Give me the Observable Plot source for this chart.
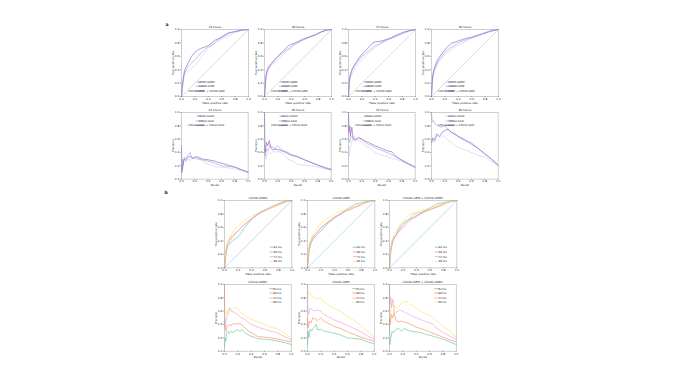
<!DOCTYPE html>
<html><head><meta charset="utf-8">
<script src="https://cdn.jsdelivr.net/npm/d3@7"></script>
<script src="https://cdn.jsdelivr.net/npm/@observablehq/plot@0.6"></script>
<style>
body{margin:0;background:#fff;font-family:"DejaVu Sans",sans-serif}
#fig{position:relative;width:673px;height:379px;overflow:hidden}
#fig svg{position:absolute;overflow:visible}
.lab{position:absolute;font-weight:bold;font-size:4.5px;color:#222}
</style></head><body><div id="fig"></div>
<script>
// ---- tick labels / categories ----
const tickValues = [0, 0.2, 0.4, 0.6, 0.8, 1.0];
const hoursTitles = ["24 hours", "48 hours", "72 hours", "96 hours"];
const cohortNames = ["COVID-GMRC", "COVID-GBM", "COVID-GMRC + COVID-GBM"];
const cohortTitlesB = ["COVID-GMRC", "COVID-GBM", "COVID-GBM + COVID-GMRC"];
const hoursLabels = ["24 hrs", "48 hrs", "72 hrs", "96 hrs"];
const diagonal = [[0, 0], [1, 1]];

// ---- ROC curves [false positive rate, true positive rate] ----
const rocGmrc24 = [[0,0],[0.01,0.1],[0.03,0.25],[0.05,0.33],[0.08,0.36],[0.12,0.4],[0.17,0.44],[0.2,0.46],[0.25,0.52],[0.3,0.6],[0.35,0.66],[0.4,0.72],[0.45,0.76],[0.5,0.8],[0.55,0.83],[0.6,0.86],[0.68,0.9],[0.75,0.93],[0.82,0.96],[0.9,0.99],[1,1]];
const rocGbm24 = [[0,0],[0.01,0.12],[0.03,0.28],[0.05,0.36],[0.08,0.42],[0.12,0.47],[0.15,0.5],[0.2,0.55],[0.25,0.6],[0.3,0.66],[0.35,0.7],[0.4,0.74],[0.45,0.77],[0.5,0.8],[0.55,0.85],[0.6,0.88],[0.65,0.91],[0.7,0.94],[0.8,0.97],[0.9,0.99],[1,1]];
const rocBoth24 = [[0,0],[0.01,0.15],[0.03,0.3],[0.05,0.4],[0.08,0.46],[0.1,0.5],[0.15,0.6],[0.2,0.66],[0.25,0.7],[0.3,0.72],[0.35,0.74],[0.4,0.76],[0.45,0.8],[0.5,0.84],[0.55,0.86],[0.6,0.89],[0.65,0.92],[0.7,0.95],[0.8,0.97],[0.9,0.99],[1,1]];
const rocGmrc48 = [[0,0],[0.01,0.12],[0.02,0.25],[0.04,0.35],[0.06,0.4],[0.1,0.46],[0.14,0.5],[0.18,0.53],[0.22,0.57],[0.27,0.62],[0.32,0.66],[0.37,0.7],[0.42,0.74],[0.47,0.78],[0.52,0.81],[0.58,0.84],[0.64,0.87],[0.7,0.9],[0.78,0.94],[0.86,0.97],[0.93,0.99],[1,1]];
const rocGbm48 = [[0,0],[0.01,0.15],[0.02,0.28],[0.04,0.38],[0.07,0.44],[0.1,0.48],[0.14,0.52],[0.18,0.57],[0.22,0.61],[0.27,0.65],[0.32,0.69],[0.37,0.72],[0.42,0.76],[0.48,0.8],[0.53,0.82],[0.58,0.85],[0.64,0.87],[0.7,0.9],[0.76,0.92],[0.84,0.96],[0.92,0.99],[1,1]];
const rocBoth48 = [[0,0],[0.01,0.15],[0.02,0.3],[0.04,0.4],[0.07,0.46],[0.1,0.49],[0.14,0.54],[0.18,0.58],[0.22,0.62],[0.27,0.67],[0.32,0.72],[0.36,0.76],[0.41,0.78],[0.46,0.8],[0.52,0.83],[0.58,0.86],[0.64,0.88],[0.7,0.9],[0.76,0.92],[0.84,0.96],[0.92,0.99],[1,1]];
const rocGmrc72 = [[0,0],[0.01,0.15],[0.02,0.25],[0.05,0.33],[0.08,0.4],[0.12,0.46],[0.16,0.5],[0.2,0.55],[0.25,0.6],[0.3,0.65],[0.35,0.69],[0.4,0.73],[0.45,0.77],[0.5,0.8],[0.56,0.83],[0.62,0.86],[0.68,0.88],[0.75,0.91],[0.82,0.94],[0.9,0.97],[0.95,0.99],[1,1]];
const rocGbm72 = [[0,0],[0.01,0.18],[0.02,0.28],[0.05,0.38],[0.08,0.44],[0.12,0.5],[0.16,0.55],[0.2,0.6],[0.25,0.64],[0.3,0.68],[0.35,0.72],[0.4,0.76],[0.45,0.78],[0.5,0.81],[0.56,0.84],[0.62,0.86],[0.68,0.89],[0.75,0.92],[0.82,0.95],[0.9,0.98],[1,1]];
const rocBoth72 = [[0,0],[0.01,0.2],[0.02,0.3],[0.05,0.4],[0.08,0.46],[0.12,0.52],[0.16,0.58],[0.2,0.63],[0.25,0.68],[0.3,0.73],[0.34,0.78],[0.38,0.81],[0.44,0.82],[0.5,0.83],[0.56,0.85],[0.62,0.87],[0.68,0.9],[0.75,0.93],[0.82,0.96],[0.9,0.98],[1,1]];
const rocGmrc96 = [[0,0],[0.01,0.15],[0.02,0.28],[0.04,0.36],[0.07,0.43],[0.1,0.5],[0.14,0.55],[0.18,0.6],[0.22,0.64],[0.27,0.68],[0.32,0.72],[0.37,0.75],[0.42,0.78],[0.47,0.8],[0.52,0.83],[0.58,0.86],[0.64,0.88],[0.7,0.9],[0.77,0.93],[0.85,0.96],[0.92,0.98],[1,1]];
const rocGbm96 = [[0,0],[0.01,0.2],[0.02,0.3],[0.04,0.4],[0.07,0.47],[0.1,0.53],[0.14,0.58],[0.18,0.63],[0.22,0.68],[0.27,0.72],[0.32,0.75],[0.37,0.78],[0.42,0.81],[0.47,0.83],[0.52,0.85],[0.58,0.87],[0.64,0.89],[0.7,0.91],[0.77,0.94],[0.85,0.96],[0.92,0.98],[1,1]];
const rocBoth96 = [[0,0],[0.01,0.22],[0.02,0.32],[0.04,0.42],[0.07,0.5],[0.1,0.56],[0.14,0.62],[0.18,0.67],[0.22,0.72],[0.26,0.76],[0.3,0.8],[0.35,0.81],[0.4,0.83],[0.46,0.85],[0.52,0.87],[0.58,0.88],[0.64,0.9],[0.7,0.92],[0.77,0.94],[0.85,0.97],[0.92,0.99],[1,1]];

// ---- PR curves [recall, precision] ----
const prGmrc24 = [[0,0.05],[0.01,0.2],[0.02,0.15],[0.03,0.28],[0.05,0.3],[0.07,0.26],[0.1,0.3],[0.13,0.28],[0.17,0.31],[0.2,0.32],[0.23,0.3],[0.27,0.32],[0.3,0.28],[0.35,0.25],[0.4,0.22],[0.45,0.21],[0.5,0.19],[0.55,0.18],[0.6,0.18],[0.7,0.17],[0.8,0.15],[0.9,0.13],[1,0.1]];
const prGbm24 = [[0,0.1],[0.01,0.3],[0.02,0.2],[0.04,0.33],[0.06,0.3],[0.1,0.36],[0.13,0.4],[0.15,0.32],[0.2,0.33],[0.25,0.3],[0.3,0.29],[0.35,0.28],[0.4,0.27],[0.5,0.24],[0.55,0.22],[0.6,0.2],[0.7,0.19],[0.8,0.18],[0.9,0.14],[1,0.11]];
const prBoth24 = [[0,0.5],[0.005,0.1],[0.02,0.2],[0.04,0.3],[0.06,0.28],[0.1,0.33],[0.14,0.34],[0.18,0.3],[0.22,0.34],[0.27,0.32],[0.32,0.3],[0.4,0.29],[0.5,0.27],[0.55,0.25],[0.6,0.24],[0.7,0.21],[0.8,0.18],[0.9,0.14],[1,0.1]];
const prGmrc48 = [[0,1],[0.003,0.4],[0.02,0.3],[0.04,0.38],[0.07,0.4],[0.1,0.38],[0.13,0.42],[0.16,0.4],[0.2,0.42],[0.25,0.4],[0.3,0.36],[0.35,0.3],[0.4,0.28],[0.45,0.25],[0.5,0.22],[0.6,0.21],[0.7,0.2],[0.8,0.18],[0.9,0.16],[1,0.14]];
const prGbm48 = [[0,0.5],[0.01,0.35],[0.03,0.45],[0.05,0.42],[0.08,0.5],[0.12,0.48],[0.15,0.46],[0.2,0.5],[0.25,0.45],[0.3,0.42],[0.35,0.4],[0.4,0.37],[0.5,0.34],[0.6,0.29],[0.7,0.25],[0.8,0.21],[0.9,0.18],[1,0.15]];
const prBoth48 = [[0,1],[0.004,0.6],[0.01,0.4],[0.03,0.55],[0.05,0.5],[0.07,0.58],[0.1,0.46],[0.13,0.44],[0.17,0.45],[0.22,0.44],[0.27,0.42],[0.32,0.4],[0.4,0.36],[0.5,0.33],[0.6,0.29],[0.7,0.25],[0.8,0.21],[0.9,0.17],[1,0.14]];
const prGmrc72 = [[0,0.5],[0.01,0.35],[0.03,0.5],[0.05,0.55],[0.08,0.65],[0.1,0.6],[0.15,0.58],[0.2,0.55],[0.25,0.5],[0.3,0.48],[0.35,0.44],[0.4,0.4],[0.5,0.36],[0.6,0.33],[0.7,0.3],[0.8,0.27],[0.9,0.22],[1,0.17]];
const prGbm72 = [[0,1],[0.005,0.6],[0.02,0.55],[0.04,0.65],[0.07,0.62],[0.1,0.6],[0.15,0.62],[0.2,0.6],[0.25,0.55],[0.3,0.52],[0.35,0.5],[0.4,0.47],[0.5,0.43],[0.6,0.39],[0.7,0.34],[0.8,0.29],[0.9,0.23],[1,0.18]];
const prBoth72 = [[0,1],[0.005,0.7],[0.02,0.8],[0.03,0.65],[0.05,0.78],[0.07,0.6],[0.1,0.58],[0.15,0.62],[0.2,0.6],[0.25,0.57],[0.3,0.55],[0.4,0.5],[0.5,0.46],[0.6,0.42],[0.65,0.41],[0.7,0.35],[0.8,0.28],[0.9,0.23],[1,0.18]];
const prGmrc96 = [[0,0.5],[0.01,0.6],[0.03,0.55],[0.05,0.62],[0.08,0.65],[0.12,0.62],[0.16,0.65],[0.2,0.64],[0.25,0.58],[0.3,0.55],[0.35,0.5],[0.4,0.48],[0.5,0.44],[0.6,0.4],[0.7,0.36],[0.8,0.33],[0.9,0.27],[1,0.2]];
const prGbm96 = [[0,1],[0.01,0.85],[0.03,0.88],[0.06,0.82],[0.1,0.8],[0.15,0.78],[0.2,0.8],[0.25,0.74],[0.3,0.7],[0.35,0.67],[0.4,0.64],[0.5,0.6],[0.55,0.56],[0.6,0.52],[0.7,0.46],[0.8,0.38],[0.9,0.3],[1,0.21]];
const prBoth96 = [[0,0.55],[0.02,0.62],[0.05,0.58],[0.08,0.68],[0.12,0.64],[0.16,0.7],[0.2,0.73],[0.25,0.75],[0.3,0.7],[0.35,0.68],[0.4,0.64],[0.5,0.58],[0.6,0.54],[0.7,0.46],[0.8,0.38],[0.9,0.3],[1,0.21]];

// ---- colours ----
const cohortColors = ["#c5d3ef", "#a7a3e2", "#9a5cbf"];
const hoursColors = ["#66c2a5", "#fc8d62", "#eaa1d6", "#fbe46c"];

const roc = [[rocGmrc24, rocGbm24, rocBoth24], [rocGmrc48, rocGbm48, rocBoth48], [rocGmrc72, rocGbm72, rocBoth72], [rocGmrc96, rocGbm96, rocBoth96]];
const pr = [[prGmrc24, prGbm24, prBoth24], [prGmrc48, prGbm48, prBoth48], [prGmrc72, prGbm72, prBoth72], [prGmrc96, prGbm96, prBoth96]];
const fig = document.getElementById("fig");
const FONT = 2.8;

function panel({left, top, size = 67, title, xLabel, yLabel, diagColor, lines, legend}) {
  const ml = 12, mr = 3, mt = 6, mb = 9;
  const axisOpts = {ticks: tickValues, tickFormat: d3.format(".1f"), fontSize: FONT, label: null, stroke: "#333", strokeWidth: 0.4, fill: "#222"};
  const marks = [];
  if (diagColor) marks.push(Plot.line(diagonal, {x: d => d[0], y: d => d[1], stroke: diagColor, strokeWidth: 0.6}));
  for (const l of lines) marks.push(Plot.line(l.data, {x: d => d[0], y: d => d[1], stroke: l.color, strokeWidth: 0.65, strokeLinejoin: "round"}));
  marks.push(
    Plot.frame({stroke: "#a0a0a0", strokeWidth: 0.5}),
    Plot.axisX({...axisOpts, tickSize: 1, tickPadding: 0.4}),
    Plot.axisY({...axisOpts, tickSize: 1.2, tickPadding: 1}),
    Plot.text([xLabel], {text: d => d, frameAnchor: "bottom", lineAnchor: "middle", dy: 6.1, fontSize: FONT, fill: "#222"}),
    Plot.text([yLabel], {text: d => d, frameAnchor: "left", textAnchor: "middle", lineAnchor: "middle", rotate: -90, dx: -8.5, fontSize: FONT, fill: "#222"}),
    Plot.text([title], {text: d => d, frameAnchor: "top", lineAnchor: "middle", dy: -2.6, fontSize: 2.9, fill: "#222"})
  );
  const svg = Plot.plot({
    width: ml + size + mr, height: mt + size + mb,
    marginLeft: ml, marginRight: mr, marginTop: mt, marginBottom: mb,
    x: {domain: [0, 1]}, y: {domain: [0, 1]},
    style: {fontFamily: "DejaVu Sans", background: "transparent", overflow: "visible"},
    marks
  });
  svg.style.left = (left - ml) + "px";
  svg.style.top = (top - mt) + "px";
  const sx = svg.scale("x"), sy = svg.scale("y");
  const X = d3.scaleLinear(sx.domain, sx.range), Y = d3.scaleLinear(sy.domain, sy.range);
  const g = d3.select(svg).append("g");
  legend.items.forEach((it, i) => {
    const y = Y(legend.ys[i]);
    g.append("line").attr("x1", X(legend.x0)).attr("x2", X(legend.x1)).attr("y1", y).attr("y2", y)
      .attr("stroke", it.color).attr("stroke-width", 0.75);
    g.append("text").attr("x", X(legend.tx)).attr("y", y).attr("dy", "0.35em")
      .attr("font-size", 2.6).attr("fill", "#222").attr("font-family", "DejaVu Sans").text(it.label);
  });
  fig.appendChild(svg);
}

const cohortItems = cohortNames.map((n, i) => ({label: n, color: cohortColors[i]}));
const hoursItems = hoursLabels.map((n, i) => ({label: n, color: hoursColors[i]}));

// panel a
const aLefts = [180.7, 264.2, 347.5, 431];
hoursTitles.forEach((t, h) => {
  panel({left: aLefts[h], top: 29, size: 67, title: t, xLabel: "False positive rate", yLabel: "True positive rate",
    diagColor: "#c4c4c4", lines: roc[h].map((d, c) => ({data: d, color: cohortColors[c]})),
    legend: {items: cohortItems, x0: 0.22, x1: 0.35, tx: 0.38, ys: [0.21, 0.145, 0.075]}});
  panel({left: aLefts[h], top: 111.7, size: 66.6, title: t, xLabel: "Recall", yLabel: "Precision",
    diagColor: null, lines: pr[h].map((d, c) => ({data: d, color: cohortColors[c]})),
    legend: {items: cohortItems, x0: 0.22, x1: 0.35, tx: 0.38, ys: [0.935, 0.865, 0.8]}});
});

// panel b
const bLefts = [224, 306.5, 389];
cohortTitlesB.forEach((t, c) => {
  panel({left: bLefts[c], top: 200.3, size: 67.4, title: t, xLabel: "False positive rate", yLabel: "True positive rate",
    diagColor: "#93c9ea", lines: roc.map((r, h) => ({data: r[c], color: hoursColors[h]})),
    legend: {items: hoursItems, x0: 0.68, x1: 0.765, tx: 0.8, ys: [0.30, 0.23, 0.16, 0.09]}});
  panel({left: bLefts[c], top: 284.3, size: 66.7, title: t, xLabel: "Recall", yLabel: "Precision",
    diagColor: null, lines: pr.map((r, h) => ({data: r[c], color: hoursColors[h]})),
    legend: {items: hoursItems, x0: 0.68, x1: 0.765, tx: 0.8, ys: [0.93, 0.865, 0.79, 0.725]}});
});

// figure letters
[["a", 165.5, 22], ["b", 164.5, 190]].forEach(([t, x, y]) => {
  const d = document.createElement("div");
  d.className = "lab"; d.textContent = t; d.style.left = x + "px"; d.style.top = y + "px";
  fig.appendChild(d);
});
</script></body></html>
